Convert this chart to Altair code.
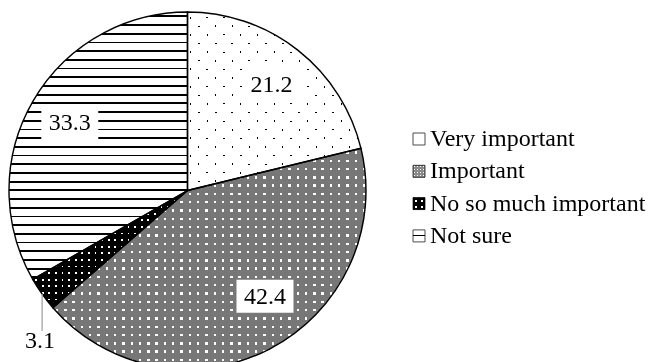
import math

import altair as alt
import pandas as pd

# ---- data -------------------------------------------------------------
categories = ["Very important", "Important", "No so much important", "Not sure"]
shares = [21.2, 42.4, 3.1, 33.3]

# ---- layout -----------------------------------------------------------
W, H = 648, 362
CX, CY, R = 187.5, 190.5, 178.5       # pie centre and radius (px)
LABEL_R = 136                         # radius of the inside value labels
BOX_W, BOX_H = 57, 33                 # white boxes behind inside labels
LEADER = 37                           # leader line length for small slices
FONT = "Liberation Serif"
FS = 24
LEG_SQ_X, LEG_TX = 419, 430
LEG_Y0, LEG_DY = 146, 32.3

df = pd.DataFrame({"category": categories, "share": shares,
                   "rank": list(range(len(categories)))})

base = (
    alt.Chart(df)
    .transform_joinaggregate(total="sum(share)")
    .transform_window(cum="sum(share)", sort=[alt.SortField("rank")])
    .transform_calculate(
        a1="2 * PI * datum.cum / datum.total",
        a0="2 * PI * (datum.cum - datum.share) / datum.total",
    )
    .transform_calculate(mid="(datum.a0 + datum.a1) / 2")
    .transform_calculate(
        nx="datum.category === 'Important' ? 15 : 0",
        ny="datum.category === 'Important' ? -15 : 0",
        ex=f"{CX} + {R} * sin(datum.mid)",
        ey=f"{CY} - {R} * cos(datum.mid)",
    )
    .transform_calculate(
        lx=f"{CX} + {LABEL_R} * sin(datum.mid) + datum.nx",
        ly=f"{CY} - {LABEL_R} * cos(datum.mid) + datum.ny",
        ey2=f"datum.ey + {LEADER}",
    )
    .transform_calculate(
        bx0=f"datum.lx - {BOX_W / 2}", bx1=f"datum.lx + {BOX_W / 2}",
        by0=f"datum.ly - {BOX_H / 2}", by1=f"datum.ly + {BOX_H / 2}",
        ty="datum.ly + 8", oy="datum.ey2 + 17",
        gy=f"{LEG_Y0} + datum.rank * {LEG_DY}",
    )
    .transform_calculate(sy="datum.gy - 7")
)


def sector_size(idx):
    """Width and height of the bounding box of one pie sector."""
    tot = sum(shares)
    a0 = 2 * math.pi * sum(shares[:idx]) / tot
    a1 = 2 * math.pi * sum(shares[: idx + 1]) / tot
    pts = [(0.0, 0.0)]
    angles = [a0, a1] + [k * math.pi / 2 for k in range(5) if a0 < k * math.pi / 2 < a1]
    for a in angles:
        pts.append((R * math.sin(a), -R * math.cos(a)))
    xs = [p[0] for p in pts]
    ys = [p[1] for p in pts]
    return max(xs) - min(xs), max(ys) - min(ys)


def stripes(extent, period, thick, fg, bg, direction):
    """Linear gradient with hard stops that draws evenly spaced lines.

    direction: "h" horizontal lines, "v" vertical lines,
               "d1"/"d2" the two diagonals.
    """
    stops = [{"offset": 0, "color": bg}]
    pos = period / 2 - thick / 2
    while pos < extent:
        s = max(pos, 0) / extent
        e = min(pos + thick, extent) / extent
        stops += [
            {"offset": s, "color": bg},
            {"offset": s, "color": fg},
            {"offset": e, "color": fg},
            {"offset": e, "color": bg},
        ]
        pos += period
    stops.append({"offset": 1, "color": bg})
    vec = {
        "h": (0, 0, 0, 1),
        "v": (0, 0, 1, 0),
        "d1": (0, 0, 1, 1),
        "d2": (1, 0, 0, 1),
    }[direction]
    x1, y1, x2, y2 = vec
    return {"gradient": "linear", "x1": x1, "y1": y1, "x2": x2, "y2": y2, "stops": stops}


def arc(cat, fill, blend=None):
    kw = {"fill": fill, "strokeWidth": 0}
    if blend:
        kw["blend"] = blend
    return (
        base.mark_arc(**kw)
        .encode(
            theta=alt.Theta("a0:Q", scale=None, stack=False),
            theta2="a1:Q",
            x=alt.value(CX), y=alt.value(CY), radius=alt.value(R),
        )
        .transform_filter(alt.datum.category == cat)
    )


def dotted(cat, period, dot, fg, bg, size_wh):
    """Square grid of dots from crossing stripes (lighten keeps dark dots, darken light ones)."""
    w, h = size_wh
    mode = "lighten" if fg == "black" else "darken"
    return [
        arc(cat, stripes(w, period, dot, fg, bg, "v")),
        arc(cat, stripes(h, period, dot, fg, bg, "h"), blend=mode),
    ]


def staggered(cat, period, dot, fg, bg, size_wh):
    """Staggered dots: rows `period/2` apart, alternate rows shifted by half."""
    w, h = size_wh
    ext = w + h
    mode = "lighten" if fg == "black" else "darken"
    return [
        arc(cat, stripes(ext, period, dot, fg, bg, "d1")),
        arc(cat, stripes(ext, period, dot, fg, bg, "d2"), blend=mode),
    ]


sizes = [sector_size(i) for i in range(len(categories))]

layers = []
layers += staggered("Very important", 17, 2.0, "black", "white", sizes[0])
layers += dotted("Important", 8.3, 2.4, "white", "#777777", sizes[1])
layers += dotted("No so much important", 6.6, 1.8, "white", "black", sizes[2])
layers.append(arc("Not sure", stripes(sizes[3][1], 8.7, 1.8, "black", "white", "h")))

# slice outlines
layers.append(
    base.mark_arc(filled=False, stroke="black", strokeWidth=1.4).encode(
        theta=alt.Theta("a0:Q", scale=None, stack=False),
        theta2="a1:Q",
        x=alt.value(CX), y=alt.value(CY), radius=alt.value(R),
    )
)

inside = alt.datum.share >= 5
outside = alt.datum.share < 5

# white boxes and inside value labels
layers.append(
    base.mark_rect(fill="white").encode(
        x=alt.X("bx0:Q", scale=None, axis=None), x2="bx1:Q",
        y=alt.Y("by0:Q", scale=None, axis=None), y2="by1:Q",
    ).transform_filter(inside)
)
layers.append(
    base.mark_text(font=FONT, fontSize=FS, color="black", align="center", baseline="alphabetic")
    .encode(
        x=alt.X("lx:Q", scale=None, axis=None),
        y=alt.Y("ty:Q", scale=None, axis=None),
        text=alt.Text("share:Q", format=".1f"),
    )
    .transform_filter(inside)
)

# leader line and label for the small slice
layers.append(
    base.mark_rule(color="#a6a6a6", strokeWidth=1.3).encode(
        x=alt.X("ex:Q", scale=None, axis=None),
        y=alt.Y("ey:Q", scale=None, axis=None), y2="ey2:Q",
    ).transform_filter(outside)
)
layers.append(
    base.mark_text(font=FONT, fontSize=FS, color="black", align="center", baseline="alphabetic", dx=-2)
    .encode(
        x=alt.X("ex:Q", scale=None, axis=None),
        y=alt.Y("oy:Q", scale=None, axis=None),
        text=alt.Text("share:Q", format=".1f"),
    )
    .transform_filter(outside)
)


# legend
def legend_square(cat, fill, blend=None):
    kw = {"size": 144, "fill": fill, "fillOpacity": 1, "strokeWidth": 0}
    if blend:
        kw["blend"] = blend
    return base.mark_square(**kw).encode(
        x=alt.value(LEG_SQ_X), y=alt.Y("sy:Q", scale=None, axis=None)
    ).transform_filter(alt.datum.category == cat)


layers.append(legend_square("Very important", "white"))
layers.append(legend_square("Important", stripes(12, 3, 1.2, "white", "#8a8a8a", "v")))
layers.append(legend_square("Important", stripes(12, 3, 1.2, "white", "#8a8a8a", "h"), "darken"))
layers.append(legend_square("No so much important", stripes(12, 6, 2, "white", "black", "v")))
layers.append(legend_square("No so much important", stripes(12, 6, 2, "white", "black", "h"), "darken"))
layers.append(legend_square("Not sure", stripes(12, 12, 1.2, "black", "white", "h")))
layers.append(
    base.mark_square(size=144, filled=False, stroke="black", strokeWidth=1).encode(
        x=alt.value(LEG_SQ_X), y=alt.Y("sy:Q", scale=None, axis=None)
    )
)
layers.append(
    base.mark_text(font=FONT, fontSize=FS, color="black", align="left", baseline="alphabetic")
    .encode(
        x=alt.value(LEG_TX),
        y=alt.Y("gy:Q", scale=None, axis=None),
        text="category:N",
    )
)

chart = (
    alt.layer(*layers)
    .properties(width=W, height=H, padding=0, autosize="none", background="white")
    .configure_view(strokeWidth=0)
)

chart.save("out.html", embed_options={"renderer": "svg", "actions": False})
